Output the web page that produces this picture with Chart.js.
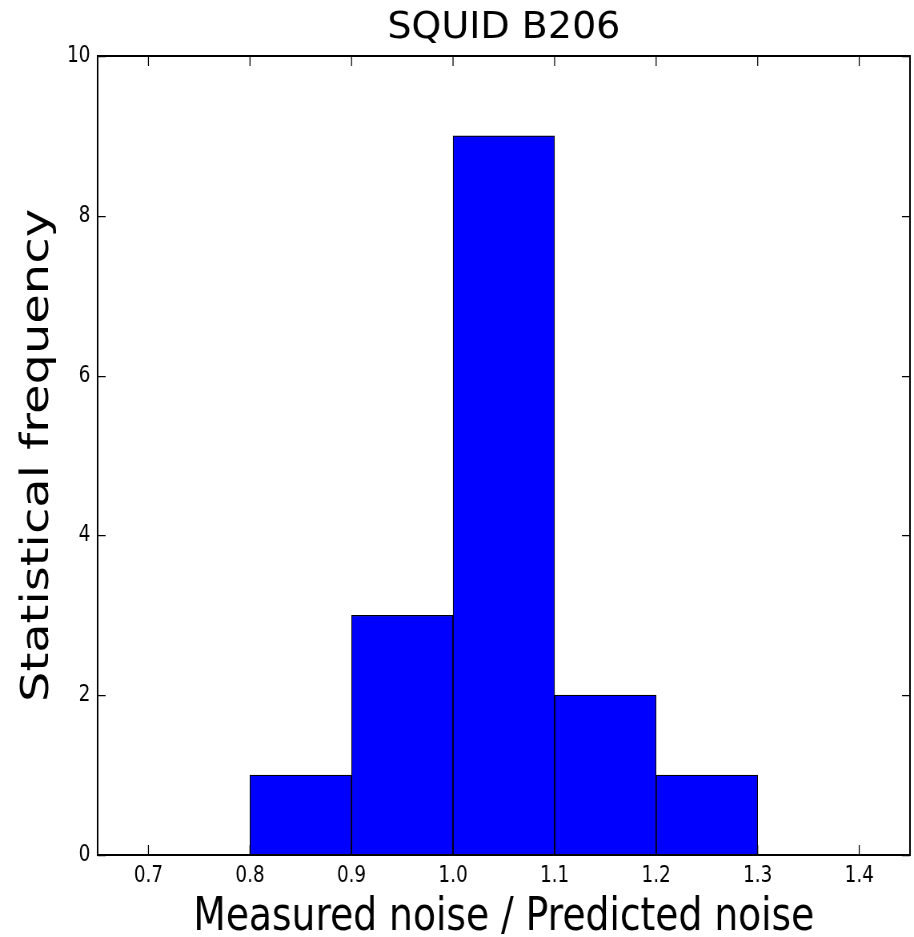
<!DOCTYPE html>
<html lang="en">
<head>
  <meta charset="UTF-8">
  <title>SQUID B206</title>
  <style>
    body {
      margin: 0;
      background: #ffffff;
    }
    /* the source figure is squeezed sideways, so draw wide and squeeze with CSS */
    #hist {
      width: 914px;
      height: 937px;
    }
  </style>
</head>
<body>
  <canvas id="hist" width="1142" height="937" style="width:914px;height:937px"></canvas>

  <script src="https://cdn.jsdelivr.net/npm/chart.js"></script>
  <script>
    // histogram bins (centres) and counts
    const binCenters = [0.85, 0.95, 1.05, 1.15, 1.25];
    const counts = [1, 3, 9, 2, 1];
    const xTicks = [0.7, 0.8, 0.9, 1.0, 1.1, 1.2, 1.3, 1.4];
    const yTicks = [0, 2, 4, 6, 8, 10];
    const chartTitle = 'SQUID B206';

    const squeeze = 914 / 1142;
    const font = "'DejaVu Sans', sans-serif";

    // frame, inward ticks on all four sides, and the title (unsqueezed)
    const frameTicks = {
      id: 'frameTicks',
      afterDatasetsDraw(chart) {
        const ctx = chart.ctx;
        const a = chart.chartArea;
        const xs = chart.scales.x;
        const ys = chart.scales.y;
        const len = 10;
        ctx.save();
        ctx.strokeStyle = '#000';
        ctx.lineWidth = 1.25;
        ctx.beginPath();
        xTicks.forEach(v => {
          const px = xs.getPixelForValue(v);
          ctx.moveTo(px, a.bottom); ctx.lineTo(px, a.bottom - len);
          ctx.moveTo(px, a.top); ctx.lineTo(px, a.top + len);
        });
        yTicks.forEach(v => {
          const py = Math.round(ys.getPixelForValue(v)) + 0.5;
          ctx.moveTo(a.left, py); ctx.lineTo(a.left + len, py);
          ctx.moveTo(a.right, py); ctx.lineTo(a.right - len, py);
        });
        ctx.stroke();
        ctx.lineWidth = 2;
        ctx.strokeRect(a.left, a.top, a.right - a.left, a.bottom - a.top);

        ctx.translate((a.left + a.right) / 2, 38);
        ctx.scale(1 / squeeze, 1);
        ctx.fillStyle = '#000';
        ctx.font = '38px ' + font;
        ctx.textAlign = 'center';
        ctx.textBaseline = 'alphabetic';
        ctx.fillText(chartTitle, 0, 0);
        ctx.restore();
      }
    };

    new Chart(document.getElementById('hist'), {
      type: 'bar',
      data: {
        datasets: [{
          data: binCenters.map((c, i) => ({ x: c, y: counts[i] })),
          backgroundColor: '#0000ff',
          borderColor: '#000000',
          borderWidth: 1.2,
          barPercentage: 1,
          categoryPercentage: 1
        }]
      },
      options: {
        responsive: false,
        animation: false,
        layout: { padding: { left: 0, right: 5, top: 56, bottom: 0 } },
        plugins: {
          legend: { display: false },
          tooltip: { enabled: false },
          title: { display: false }
        },
        scales: {
          x: {
            type: 'linear',
            min: 0.65,
            max: 1.45,
            offset: false,
            grid: { display: false, drawTicks: false },
            border: { display: false },
            afterBuildTicks: s => { s.ticks = xTicks.map(v => ({ value: v })); },
            afterFit: s => { s.height = 82; },
            ticks: {
              color: '#000',
              padding: 7,
              maxRotation: 0,
              font: { family: font, size: 23 },
              callback: v => v.toFixed(1)
            },
            title: {
              display: true,
              text: 'Measured noise / Predicted noise',
              color: '#000',
              font: { family: font, size: 47, lineHeight: 0.8 },
              padding: { top: 0, bottom: 0 }
            }
          },
          y: {
            min: 0,
            max: 10,
            grid: { display: false, drawTicks: false },
            border: { display: false },
            afterBuildTicks: s => { s.ticks = yTicks.map(v => ({ value: v })); },
            afterFit: s => { s.width = 122; },
            ticks: {
              color: '#000',
              padding: 9,
              font: { family: font, size: 23 }
            },
            title: {
              display: true,
              text: 'Statistical frequency',
              color: '#000',
              font: { family: font, size: 48, lineHeight: 1.2 },
              padding: { top: 19, bottom: 0 }
            }
          }
        }
      },
      plugins: [frameTicks]
    });
  </script>
</body>
</html>
